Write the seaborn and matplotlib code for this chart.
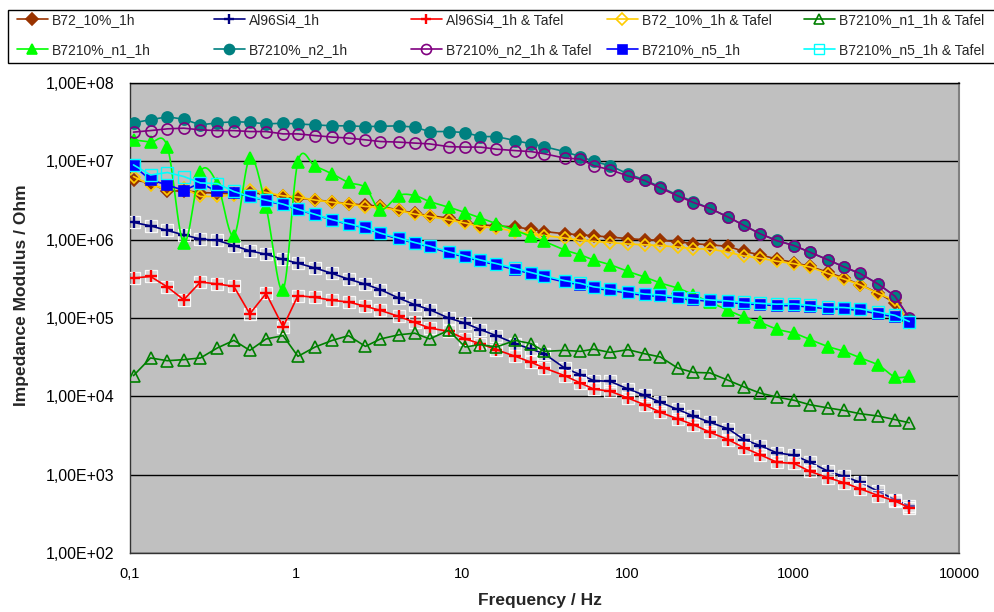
import numpy as np
import matplotlib
matplotlib.use("Agg")
import matplotlib.pyplot as plt
import seaborn as sns
from matplotlib.lines import Line2D
from matplotlib.patches import Rectangle
from matplotlib.ticker import FixedLocator, FixedFormatter, NullLocator

# Measurement frequencies (Hz)
freq_hz = [0.105, 0.133, 0.168, 0.211, 0.266, 0.336, 0.423, 0.528, 0.662, 0.838,
           1.03, 1.31, 1.66, 2.08, 2.63, 3.24, 4.17, 5.21, 6.41, 8.35,
           10.5, 13.0, 16.2, 21.1, 26.3, 31.5, 41.8, 52.0, 62.6, 78.8,
           101, 127, 158, 201, 250, 315, 406, 505, 631, 796,
           1012, 1264, 1631, 2026, 2533, 3265, 4111, 5012]

# Impedance modulus (Ohm) per sample
b72_10_1h = [5.8e6, 5.3e6, 4.12e6, 4.24e6, 4.0e6, 3.93e6, 3.85e6, 3.93e6, 3.85e6, 3.56e6,
             3.39e6, 3.23e6, 3.04e6, 2.89e6, 2.75e6, 2.68e6, 2.38e6, 2.18e6, 2.02e6, 1.89e6,
             1.68e6, 1.55e6, 1.50e6, 1.45e6, 1.36e6, 1.27e6, 1.19e6, 1.155e6, 1.12e6, 1.08e6,
             1.03e6, 1.0e6, 9.8e5, 9.4e5, 8.9e5, 8.6e5, 8.2e5, 7.07e5, 6.4e5, 5.66e5,
             5.1e5, 4.55e5, 3.82e5, 3.24e5, 2.66e5, 2.08e5, 1.55e5, 9.05e4]
al96si4_1h = [1.66e6, 1.5e6, 1.31e6, 1.15e6, 1.02e6, 9.8e5, 8.4e5, 7.2e5, 6.5e5, 5.6e5,
              5.0e5, 4.34e5, 3.7e5, 3.13e5, 2.7e5, 2.3e5, 1.8e5, 1.48e5, 1.28e5, 1.0e5,
              8.6e4, 7.1e4, 5.95e4, 4.7e4, 4.0e4, 3.5e4, 2.3e4, 1.89e4, 1.59e4, 1.55e4,
              1.24e4, 1.03e4, 8.4e3, 6.8e3, 5.6e3, 4.66e3, 3.84e3, 2.8e3, 2.35e3, 1.9e3,
              1.77e3, 1.44e3, 1.1e3, 9.5e2, 8.0e2, 6.1e2, 4.8e2, 4.0e2]
al96si4_1h_tafel = [3.24e5, 3.39e5, 2.49e5, 1.71e5, 2.88e5, 2.72e5, 2.53e5, 1.13e5, 2.06e5, 7.7e4,
                    1.93e5, 1.83e5, 1.68e5, 1.6e5, 1.41e5, 1.25e5, 1.05e5, 8.8e4, 7.45e4, 6.75e4,
                    5.4e4, 4.7e4, 3.94e4, 3.24e4, 2.72e4, 2.3e4, 1.84e4, 1.48e4, 1.24e4, 1.16e4,
                    9.5e3, 7.8e3, 6.25e3, 5.15e3, 4.35e3, 3.47e3, 2.8e3, 2.2e3, 1.8e3, 1.44e3,
                    1.39e3, 1.1e3, 9.1e2, 7.9e2, 6.6e2, 5.4e2, 4.6e2, 3.8e2]
b72_10_1h_tafel = [6.4e6, 5.0e6, 4.42e6, 4.55e6, 3.56e6, 3.56e6, 3.74e6, 4.33e6, 4.0e6, 3.63e6,
                   3.5e6, 3.2e6, 3.0e6, 2.85e6, 2.65e6, 2.6e6, 2.36e6, 2.12e6, 1.98e6, 1.79e6,
                   1.63e6, 1.47e6, 1.41e6, 1.27e6, 1.19e6, 1.13e6, 1.05e6, 9.8e5, 9.5e5, 9.2e5,
                   8.8e5, 8.6e5, 8.4e5, 8.05e5, 7.65e5, 7.6e5, 6.9e5, 6.2e5, 5.8e5, 5.3e5,
                   4.93e5, 4.47e5, 3.67e5, 3.14e5, 2.66e5, 2.04e5, 1.68e5, 8.6e4]
b7210_n1_1h_tafel = [1.84e4, 3.09e4, 2.85e4, 2.94e4, 3.09e4, 4.14e4, 5.18e4, 3.86e4, 5.4e4, 5.95e4,
                     3.24e4, 4.27e4, 5.18e4, 5.95e4, 4.34e4, 5.4e4, 6.1e4, 6.4e4, 5.4e4, 6.95e4,
                     4.27e4, 4.57e4, 4.27e4, 5.18e4, 4.7e4, 3.75e4, 3.86e4, 3.75e4, 4.0e4, 3.64e4,
                     3.94e4, 3.5e4, 3.18e4, 2.3e4, 2.02e4, 1.99e4, 1.6e4, 1.32e4, 1.1e4, 9.8e3,
                     8.9e3, 7.8e3, 7.1e3, 6.6e3, 6.0e3, 5.6e3, 5.05e3, 4.6e3]
b7210_n1_1h = [1.88e7, 1.76e7, 1.54e7, 9.1e5, 7.4e6, 5.2e6, 1.12e6, 1.1e7, 2.6e6, 2.3e5,
               9.9e6, 8.6e6, 6.9e6, 5.37e6, 4.6e6, 2.41e6, 3.66e6, 3.66e6, 3.07e6, 2.6e6,
               2.22e6, 1.89e6, 1.6e6, 1.31e6, 1.1e6, 9.5e5, 7.4e5, 6.4e5, 5.5e5, 4.78e5,
               3.93e5, 3.33e5, 2.8e5, 2.41e5, 1.98e5, 1.6e5, 1.25e5, 1.03e5, 8.8e4, 7.2e4,
               6.4e4, 5.3e4, 4.3e4, 3.75e4, 3.1e4, 2.5e4, 1.77e4, 1.8e4]
b7210_n2_1h = [3.1e7, 3.4e7, 3.7e7, 3.45e7, 2.92e7, 3.1e7, 3.2e7, 3.16e7, 3.0e7, 3.07e7,
               3.0e7, 2.92e7, 2.84e7, 2.84e7, 2.78e7, 2.8e7, 2.84e7, 2.73e7, 2.4e7, 2.4e7,
               2.33e7, 2.07e7, 2.07e7, 1.84e7, 1.67e7, 1.54e7, 1.33e7, 1.15e7, 1.0e7, 8.8e6,
               6.9e6, 5.8e6, 4.7e6, 3.7e6, 3.07e6, 2.5e6, 1.94e6, 1.52e6, 1.19e6, 9.8e5,
               8.4e5, 6.9e5, 5.5e5, 4.47e5, 3.67e5, 2.72e5, 1.89e5, 9.8e4]
b7210_n2_1h_tafel = [2.36e7, 2.47e7, 2.6e7, 2.65e7, 2.52e7, 2.47e7, 2.47e7, 2.4e7, 2.4e7, 2.24e7,
                     2.24e7, 2.13e7, 2.04e7, 1.98e7, 1.88e7, 1.79e7, 1.76e7, 1.71e7, 1.67e7, 1.54e7,
                     1.52e7, 1.52e7, 1.43e7, 1.37e7, 1.33e7, 1.25e7, 1.1e7, 1.07e7, 8.8e6, 7.8e6,
                     6.5e6, 5.7e6, 4.55e6, 3.63e6, 2.98e6, 2.5e6, 1.94e6, 1.52e6, 1.19e6, 9.7e5,
                     8.4e5, 6.9e5, 5.5e5, 4.5e5, 3.7e5, 2.7e5, 1.9e5, 1.0e5]
b7210_n5_1h = [8.77e6, 5.8e6, 5.0e6, 4.24e6, 5.3e6, 4.12e6, 4.0e6, 3.56e6, 3.13e6, 2.79e6,
               2.41e6, 2.08e6, 1.78e6, 1.57e6, 1.41e6, 1.19e6, 1.02e6, 9.06e5, 8.05e5, 6.8e5,
               6.0e5, 5.3e5, 4.78e5, 4.13e5, 3.67e5, 3.33e5, 2.88e5, 2.66e5, 2.41e5, 2.25e5,
               2.08e5, 1.94e5, 1.89e5, 1.78e5, 1.71e5, 1.63e5, 1.58e5, 1.52e5, 1.48e5, 1.44e5,
               1.44e5, 1.38e5, 1.31e5, 1.30e5, 1.25e5, 1.13e5, 1.03e5, 8.6e4]
b7210_n5_1h_tafel = [9.0e6, 6.7e6, 7.2e6, 6.4e6, 5.3e6, 5.2e6, 4.12e6, 3.56e6, 3.2e6, 2.84e6,
                     2.45e6, 2.1e6, 1.8e6, 1.6e6, 1.43e6, 1.21e6, 1.05e6, 9.2e5, 8.3e5, 7.0e5,
                     6.2e5, 5.5e5, 4.95e5, 4.3e5, 3.8e5, 3.45e5, 3.0e5, 2.77e5, 2.5e5, 2.35e5,
                     2.17e5, 2.02e5, 1.97e5, 1.86e5, 1.78e5, 1.7e5, 1.65e5, 1.58e5, 1.54e5, 1.5e5,
                     1.51e5, 1.45e5, 1.37e5, 1.36e5, 1.31e5, 1.19e5, 1.08e5, 9.0e4]

y_ticks = [1e2, 1e3, 1e4, 1e5, 1e6, 1e7, 1e8]
y_tick_labels = ["1,00E+02", "1,00E+03", "1,00E+04", "1,00E+05",
                 "1,00E+06", "1,00E+07", "1,00E+08"]
x_ticks = [0.1, 1, 10, 100, 1000, 10000]
x_tick_labels = ["0,1", "1", "10", "100", "1000", "10000"]

# (label, values, colour, marker, filled, marker size, edge width, smoothed line)
series = [
    ("B72_10%_1h", b72_10_1h, "#993300", "D", True, 6.6, 1.2, False),
    ("Al96Si4_1h", al96si4_1h, "#000080", "+", True, 8.0, 1.7, False),
    ("Al96Si4_1h & Tafel", al96si4_1h_tafel, "#FF0000", "+", True, 8.0, 1.7, False),
    ("B72_10%_1h & Tafel", b72_10_1h_tafel, "#FFCC00", "D", False, 6.6, 1.2, False),
    ("B7210%_n1_1h & Tafel", b7210_n1_1h_tafel, "#008000", "^", False, 8.2, 1.2, False),
    ("B7210%_n1_1h", b7210_n1_1h, "#00FF00", "^", True, 8.2, 1.2, True),
    ("B7210%_n2_1h", b7210_n2_1h, "#008080", "o", True, 8.0, 1.2, False),
    ("B7210%_n2_1h & Tafel", b7210_n2_1h_tafel, "#800080", "o", False, 8.0, 1.2, False),
    ("B7210%_n5_1h", b7210_n5_1h, "#0000FF", "s", True, 7.2, 1.2, False),
    ("B7210%_n5_1h & Tafel", b7210_n5_1h_tafel, "#00FFFF", "s", False, 8.0, 1.0, False),
]


def smooth_curve(x, y, steps=14):
    """Bezier smoothing through the points in log-log space."""
    p = np.column_stack([np.log10(x), np.log10(y)])
    ext = np.vstack([p[0], p, p[-1]])
    t = np.linspace(0, 1, steps)[:, None]
    out = []
    for i in range(len(p) - 1):
        p0, p1, p2, p3 = ext[i], ext[i + 1], ext[i + 2], ext[i + 3]
        c1 = p1 + (p2 - p0) / 6.0
        c2 = p2 - (p3 - p1) / 6.0
        seg = ((1 - t) ** 3) * p1 + 3 * ((1 - t) ** 2) * t * c1 + 3 * (1 - t) * t ** 2 * c2 + t ** 3 * p2
        out.append(seg if i == 0 else seg[1:])
    out = np.vstack(out)
    return 10 ** out[:, 0], 10 ** out[:, 1]


sns.set_theme(style="white")
plt.rcParams["font.family"] = ["Liberation Sans", "DejaVu Sans"]

fig = plt.figure(figsize=(9.95, 6.12), dpi=100)
fig.patch.set_facecolor("white")
ax = fig.add_axes([130 / 995, 1 - 553 / 612, (959 - 130) / 995, (553 - 83) / 612])
ax.set_facecolor("#C0C0C0")

handles = []
for k, (label, vals, col, mk, filled, ms, mew, smooth) in enumerate(series):
    z = 3 + k
    fc = col if filled else "none"
    if mk == "+":
        sns.scatterplot(x=freq_hz, y=vals, ax=ax, marker="s", s=85,
                        color=(1, 1, 1, 0.35), edgecolor=(1, 1, 1, 0.9),
                        linewidth=0.9, zorder=z, legend=False)
    if smooth:
        sx, sy = smooth_curve(freq_hz, vals)
        sns.lineplot(x=sx, y=sy, ax=ax, color=col, lw=1.2, sort=False,
                     estimator=None, zorder=z, legend=False)
        sns.lineplot(x=freq_hz, y=vals, ax=ax, color=col, linestyle="",
                     marker=mk, markersize=ms, markerfacecolor=fc,
                     markeredgecolor=col, markeredgewidth=mew, sort=False,
                     estimator=None, zorder=z, legend=False)
    else:
        sns.lineplot(x=freq_hz, y=vals, ax=ax, color=col, lw=1.2,
                     marker=mk, markersize=ms, markerfacecolor=fc,
                     markeredgecolor=col, markeredgewidth=mew, sort=False,
                     estimator=None, zorder=z, legend=False)
    handles.append(Line2D([], [], color=col, lw=1.2, marker=mk, markersize=ms * 0.9,
                          markerfacecolor=fc, markeredgecolor=col,
                          markeredgewidth=mew, label=label))

ax.set_xscale("log")
ax.set_yscale("log")
ax.set_xlim(0.1, 10000)
ax.set_ylim(1e2, 1e8)

ax.yaxis.set_major_locator(FixedLocator(y_ticks))
ax.yaxis.set_major_formatter(FixedFormatter(y_tick_labels))
ax.yaxis.set_minor_locator(NullLocator())
ax.xaxis.set_major_locator(FixedLocator(x_ticks))
ax.xaxis.set_major_formatter(FixedFormatter(x_tick_labels))
ax.xaxis.set_minor_locator(NullLocator())

ax.yaxis.grid(True, color="black", lw=1.0)
ax.xaxis.grid(False)
ax.set_axisbelow(True)

ax.tick_params(axis="y", direction="out", length=5, width=1, color="#333333",
               labelsize=11.5, pad=6, labelcolor="black")
ax.tick_params(axis="x", direction="out", length=5, width=1, color="#333333",
               labelsize=10.5, pad=5, labelcolor="black")
for side in ("left", "bottom"):
    ax.spines[side].set_color("#333333")
    ax.spines[side].set_linewidth(1.0)
ax.spines["top"].set_color("black")
ax.spines["top"].set_linewidth(1.0)
ax.spines["right"].set_color("#808080")
ax.spines["right"].set_linewidth(1.5)

ax.set_xlabel("")
ax.set_ylabel("")
fig.text(22 / 995, 1 - 295 / 612, "Impedance Modulus / Ohm", rotation=90,
         fontsize=12.5, fontweight="bold", ha="center", va="center")
fig.text(540 / 995, 1 - 601 / 612, "Frequency / Hz", fontsize=12.5,
         fontweight="bold", ha="center", va="center")

# Legend: five equal-width columns of two entries inside one black frame
fig.add_artist(Rectangle((8 / 995, 1 - 63 / 612), 1.0, 53 / 612,
                         transform=fig.transFigure, facecolor="white",
                         edgecolor="black", lw=1.0, zorder=1))
col_left = [17, 214, 411, 607, 804]
for c, x0 in enumerate(col_left):
    pair = [handles[c], handles[c + 5]]
    leg = fig.legend(pair, [h.get_label() for h in pair], loc="upper left",
                     bbox_to_anchor=(x0 / 995, 1 - 13 / 612), frameon=False,
                     fontsize=10, handlelength=2.2, handletextpad=0.3,
                     numpoints=1, borderpad=0, borderaxespad=0,
                     labelspacing=1.15)
    leg.set_zorder(2)

fig.savefig("out.png", dpi=100, facecolor="white")
